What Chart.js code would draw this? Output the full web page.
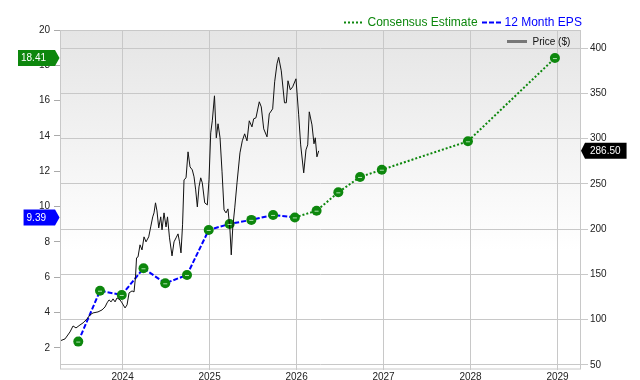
<!DOCTYPE html>
<html lang="en">
<head>
  <meta charset="UTF-8">
  <title>EPS vs Price</title>
  <script src="https://cdn.jsdelivr.net/npm/chart.js"></script>
  <style>
    html, body { margin: 0; padding: 0; background: #fff; }
    canvas { display: block; }
  </style>
</head>
<body>
<canvas id="epsChart" width="640" height="380"></canvas>

<script>
  const FONT = '"Liberation Sans", Arial, sans-serif';
  const GREEN = '#0d870d';
  const BLUE = '#0000ff';

  // axis ticks
  const yearTicks = [2024, 2025, 2026, 2027, 2028, 2029];
  const epsTicks = [2, 4, 6, 8, 10, 12, 14, 16, 18, 20];
  const priceTicks = [50, 100, 150, 200, 250, 300, 350, 400];

  // 12 month EPS (reported), x in decimal years
  const epsDates = [2023.49, 2023.74, 2023.99, 2024.24, 2024.49, 2024.74, 2024.99, 2025.23, 2025.48, 2025.73, 2025.98];
  const epsValues = [2.36, 5.24, 5.00, 6.51, 5.66, 6.13, 8.68, 9.02, 9.25, 9.53, 9.39];

  // consensus estimates
  const estDates = [2026.23, 2026.48, 2026.73, 2026.98, 2027.97, 2028.97];
  const estValues = [9.77, 10.81, 11.68, 12.09, 13.70, 18.41];

  // share price ($)
  const priceDates = [
    2023.280, 2023.338, 2023.395, 2023.430, 2023.464, 2023.510, 2023.545, 2023.591, 2023.625, 2023.660,
    2023.717, 2023.763, 2023.798, 2023.821, 2023.844, 2023.867, 2023.890, 2023.913, 2023.936, 2023.970,
    2023.993, 2024.028, 2024.051, 2024.074, 2024.108, 2024.131, 2024.148, 2024.160, 2024.177, 2024.200,
    2024.223, 2024.246, 2024.269, 2024.300, 2024.323, 2024.346, 2024.361, 2024.378, 2024.395, 2024.415,
    2024.438, 2024.453, 2024.476, 2024.499, 2024.516, 2024.539, 2024.568, 2024.591, 2024.614, 2024.637,
    2024.654, 2024.671, 2024.689, 2024.706, 2024.729, 2024.752, 2024.775, 2024.801, 2024.821, 2024.840,
    2024.859, 2024.878, 2024.898, 2024.916, 2024.944, 2024.974, 2024.993, 2025.013, 2025.031, 2025.056,
    2025.077, 2025.097, 2025.120, 2025.143, 2025.166, 2025.189, 2025.211, 2025.234, 2025.249, 2025.266,
    2025.289, 2025.315, 2025.349, 2025.376, 2025.403, 2025.430, 2025.456, 2025.487, 2025.507, 2025.533,
    2025.571, 2025.594, 2025.622, 2025.660, 2025.686, 2025.725, 2025.748, 2025.775, 2025.794, 2025.824,
    2025.861, 2025.882, 2025.901, 2025.928, 2025.955, 2025.993, 2026.024, 2026.047, 2026.082, 2026.108,
    2026.128, 2026.146, 2026.177, 2026.200, 2026.215, 2026.234, 2026.254
  ];
  const priceValues = [
    76.6, 78.8, 86.5, 93.1, 90.9, 94.2, 96.5, 100.9, 105.3, 107.5,
    108.6, 110.8, 114.1, 118.6, 121.9, 119.7, 123.0, 119.7, 124.1, 121.9,
    118.6, 113.0, 116.4, 129.6, 131.8, 130.7, 147.3, 168.3, 169.4, 182.7,
    177.1, 191.5, 186.0, 191.5, 202.5, 213.6, 218.0, 229.1, 220.2, 201.4,
    213.6, 199.2, 218.0, 202.5, 213.6, 190.4, 170.5, 186.0, 190.4, 194.8,
    186.0, 173.8, 204.8, 254.5, 256.7, 285.4, 268.8, 265.5, 257.8, 243.4,
    224.6, 246.7, 256.7, 251.2, 229.1, 226.8, 254.5, 306.4, 319.7, 347.3,
    300.9, 316.4, 300.9, 263.3, 221.3, 218.0, 222.4, 199.2, 171.6, 201.4,
    223.5, 251.2, 284.3, 297.6, 305.3, 297.6, 319.7, 313.0, 321.9, 323.0,
    340.7, 335.1, 310.8, 302.0, 327.4, 332.9, 362.8, 382.7, 389.8, 374.9,
    339.6, 339.6, 363.9, 353.9, 357.2, 366.1, 326.3, 293.1, 262.2, 287.6,
    293.1, 329.6, 315.2, 294.3, 300.9, 279.9, 286.5
  ];

  const toPoints = (xs, ys) => xs.map((x, i) => ({ x: x, y: ys[i] }));
  const lastEps = epsValues[epsValues.length - 1];
  const lastEst = estValues[estValues.length - 1];
  const lastPrice = priceValues[priceValues.length - 1];

  // tag with an arrow pointing at an axis
  function tag(ctx, y, text, color, side) {
    ctx.save();
    ctx.font = '10px ' + FONT;
    const w = ctx.measureText(text).width;
    const h = 16;
    let left, right, tipX, baseX, textX;
    ctx.beginPath();
    if (side === 'left') {
      right = 55; tipX = 59.5;
      left = 46 - w - 3;
      textX = left + 3;
      ctx.moveTo(left, y - h / 2);
      ctx.lineTo(right, y - h / 2);
      ctx.lineTo(tipX, y);
      ctx.lineTo(right, y + h / 2);
      ctx.lineTo(left, y + h / 2);
    } else {
      tipX = 581; left = 585;
      textX = 590;
      right = textX + w + 6;
      ctx.moveTo(tipX, y);
      ctx.lineTo(left, y - h / 2);
      ctx.lineTo(right, y - h / 2);
      ctx.lineTo(right, y + h / 2);
      ctx.lineTo(left, y + h / 2);
    }
    ctx.closePath();
    ctx.fillStyle = color;
    ctx.fill();
    ctx.fillStyle = '#fff';
    ctx.textAlign = 'left';
    ctx.textBaseline = 'middle';
    ctx.fillText(text, textX, y + 0.5);
    ctx.restore();
  }

  const decorations = {
    id: 'decorations',
    beforeDraw(chart) {
      const { ctx, chartArea: a } = chart;
      const g = ctx.createLinearGradient(0, a.top, 0, a.bottom);
      g.addColorStop(0, '#e5e5e5');
      g.addColorStop(0.65, '#ffffff');
      g.addColorStop(1, '#ffffff');
      ctx.save();
      ctx.fillStyle = g;
      ctx.fillRect(a.left, a.top, a.right - a.left, a.bottom - a.top);
      ctx.restore();
    },
    afterDatasetsDraw(chart) {
      // little light dash inside every estimate circle
      const ctx = chart.ctx;
      const meta = chart.getDatasetMeta(2);
      ctx.save();
      ctx.strokeStyle = 'rgba(190,235,190,0.9)';
      ctx.lineWidth = 1;
      meta.data.forEach(function(pt) {
        ctx.beginPath();
        ctx.moveTo(pt.x - 2, pt.y + 0.5);
        ctx.lineTo(pt.x + 2, pt.y + 0.5);
        ctx.stroke();
      });
      ctx.restore();
    },
    afterDraw(chart) {
      const { ctx, chartArea: a, scales } = chart;
      ctx.save();
      // plot frame
      ctx.strokeStyle = '#c8c8c8';
      ctx.lineWidth = 1;
      ctx.strokeRect(a.left + 0.5, a.top + 0.5, a.right - a.left - 1, a.bottom - a.top - 1);

      // legend on top
      ctx.font = '12px ' + FONT;
      ctx.textBaseline = 'middle';
      ctx.textAlign = 'left';
      const ly = 22.5;
      ctx.lineWidth = 2;
      ctx.strokeStyle = GREEN;
      ctx.setLineDash([2, 2]);
      ctx.beginPath(); ctx.moveTo(344, ly); ctx.lineTo(363, ly); ctx.stroke();
      ctx.fillStyle = GREEN;
      ctx.fillText('Consensus Estimate', 367.5, ly + 0.5);
      ctx.strokeStyle = BLUE;
      ctx.setLineDash([5, 2]);
      ctx.beginPath(); ctx.moveTo(482, ly); ctx.lineTo(502, ly); ctx.stroke();
      ctx.fillStyle = BLUE;
      ctx.fillText('12 Month EPS', 504.5, ly + 0.5);

      // price legend inside the plot
      ctx.setLineDash([]);
      ctx.strokeStyle = '#777';
      ctx.lineWidth = 3;
      ctx.beginPath(); ctx.moveTo(507, 41.5); ctx.lineTo(527, 41.5); ctx.stroke();
      ctx.font = '10px ' + FONT;
      ctx.fillStyle = '#111';
      ctx.fillText('Price ($)', 532.5, 42);
      ctx.restore();

      // value tags
      tag(ctx, scales.y.getPixelForValue(lastEst), lastEst.toFixed(2), GREEN, 'left');
      tag(ctx, scales.y.getPixelForValue(lastEps), lastEps.toFixed(2), BLUE, 'left');
      tag(ctx, scales.y2.getPixelForValue(lastPrice), lastPrice.toFixed(2), '#000', 'right');
    }
  };

  const tickFont = { family: FONT, size: 10 };

  const ctx = document.getElementById('epsChart').getContext('2d');
  const epsChart = new Chart(ctx, {
    type: 'line',
    data: {
      datasets: [
        {
          label: 'Price ($)',
          data: toPoints(priceDates, priceValues),
          yAxisID: 'y2',
          borderColor: '#111',
          borderWidth: 1,
          pointRadius: 0,
          tension: 0,
          order: 0
        },
        {
          label: '12 Month EPS',
          data: toPoints(epsDates, epsValues),
          yAxisID: 'y',
          borderColor: BLUE,
          borderWidth: 2,
          borderDash: [5, 2],
          pointRadius: 0,
          order: 3
        },
        {
          label: 'EPS points',
          data: toPoints(epsDates.concat(estDates), epsValues.concat(estValues)),
          yAxisID: 'y',
          showLine: false,
          pointRadius: 5,
          pointBackgroundColor: GREEN,
          pointBorderWidth: 0,
          order: 1
        },
        {
          label: 'Consensus Estimate',
          data: toPoints([epsDates[epsDates.length - 1]].concat(estDates), [lastEps].concat(estValues)),
          yAxisID: 'y',
          borderColor: GREEN,
          borderWidth: 2,
          borderDash: [2, 2],
          pointRadius: 0,
          order: 2
        }
      ]
    },
    options: {
      responsive: false,
      animation: false,
      events: [],
      layout: { padding: { top: 30, left: 0, right: 0, bottom: 0 } },
      plugins: {
        legend: { display: false },
        tooltip: { enabled: false }
      },
      scales: {
        x: {
          type: 'linear',
          min: 2023.28,
          max: 2029.27,
          afterBuildTicks: s => { s.ticks = yearTicks.map(v => ({ value: v })); },
          afterFit: s => { s.height = 10.5; },
          grid: { color: '#c8c8c8', drawTicks: false },
          border: { display: false },
          ticks: {
            padding: 2,
            color: '#222',
            font: tickFont,
            maxRotation: 0,
            autoSkip: false,
            callback: v => String(v)
          }
        },
        y: {
          position: 'left',
          min: 0.78,
          max: 20,
          afterBuildTicks: s => { s.ticks = epsTicks.map(v => ({ value: v })); },
          afterFit: s => { s.width = 60; },
          grid: { drawOnChartArea: false, color: '#aaa', tickLength: 6 },
          border: { display: false },
          ticks: { padding: 4, color: '#222', font: tickFont, callback: v => String(v) }
        },
        y2: {
          position: 'right',
          min: 45,
          max: 420,
          afterBuildTicks: s => { s.ticks = priceTicks.map(v => ({ value: v })); },
          afterFit: s => { s.width = 59; },
          grid: { color: '#c8c8c8', tickLength: 7 },
          border: { display: false },
          ticks: { padding: 2, color: '#222', font: tickFont, callback: v => String(v) }
        }
      }
    },
    plugins: [decorations]
  });
</script>
</body>
</html>
